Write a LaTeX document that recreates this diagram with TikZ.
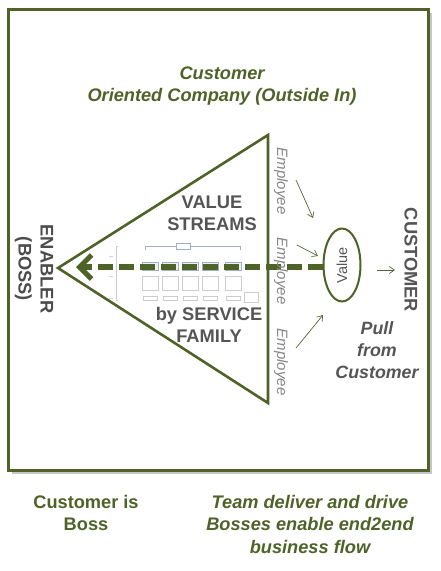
\documentclass[tikz,border=0pt]{standalone}
\usepackage{fontspec}
\setmainfont{Liberation Sans}
\usetikzlibrary{arrows.meta,shapes.geometric}
\definecolor{olive}{RGB}{79,98,40}
\definecolor{txtgray}{RGB}{85,85,85}
\definecolor{empgray}{RGB}{135,135,135}
\definecolor{thumb}{RGB}{160,175,200}
\begin{document}
\begin{tikzpicture}[x=1pt,y=-1pt,
  olivetext/.style={text=olive,font=\bfseries\itshape\fontsize{18.2}{22.5}\selectfont,align=center,inner sep=0},
  graytext/.style={text=txtgray,font=\bfseries\fontsize{18.3}{22}\selectfont,align=center,inner sep=0},
  emp/.style={text=empgray,font=\itshape\fontsize{15}{18}\selectfont,rotate=-90,inner sep=0},
  thinarrow/.style={draw=olive!85!gray,line width=0.7pt,-{Straight Barb[length=5pt,width=7pt]}},
  thumbbox/.style={draw=thumb,line width=0.4pt,fill=white},
]
\useasboundingbox (0,0) rectangle (441,571);
\fill[white] (0,0) rectangle (441,571);
% frame with shadow
\fill[gray!45] (12,13) rectangle (432,474);
\draw[olive,line width=3pt,fill=white] (8,9) rectangle (428,470);

% top title
\node[olivetext] (title) at (222,86) {Customer\\Oriented Company (Outside In)};

% triangle
\coordinate (apex) at (58,268);
\coordinate (tr) at (268,135);
\coordinate (br) at (268,403);
\draw[olive,line width=2.6pt,line join=miter] (apex) -- (tr) -- (br) -- cycle;

% thumbnail of value stream map
\begin{scope}[line width=0.4pt]
  \draw[thumb] (145,250) -- (145,246) -- (240,246) -- (240,250);
  \node[thumbbox,minimum width=14pt,minimum height=6pt,inner sep=0] (tb0) at (183,246) {};
  \foreach \x in {150,170,190,210,233}{
    \draw[thumb,fill=thumb!20] (\x-8,262) rectangle (\x+8,270);
    \draw[gray!40] (\x-8,276) rectangle (\x+8,290);
    \draw[gray!40] (\x-7,296) rectangle (\x+7,300);
  }
  \draw[gray!40] (244,292) rectangle (258,302);
  \draw[gray!40] (118,246) -- (116,246) -- (116,300) -- (118,300);
  \draw[gray!35] (113,256) -- (109,256) (113,276) -- (109,276) (113,298) -- (109,298);
\end{scope}

% value ellipse
\node[ellipse,draw=olive,line width=2pt,minimum width=37pt,minimum height=73pt,inner sep=0] (value) at (342,265) {};
\node[rotate=90,text=txtgray,font=\fontsize{14.5}{17}\selectfont] (valuetxt) at (value.center) {Value};

% dashed arrow
\coordinate (tip) at (76,266);
\draw[olive,line width=6pt,dash pattern=on 15pt off 6pt,
  -{Straight Barb[length=12pt,width=24pt,line width=5pt]}] (value.west |- 0,267) -- (tip |- 0,267);

% labels in triangle
\node[graytext] (vs) at (212,213) {VALUE\\STREAMS};
\node[graytext] (sf) at (209,325) {by SERVICE\\FAMILY};

% employees
\node[emp] (e1) at (281,181) {Employee};
\node[emp] (e2) at (281,271) {Employee};
\node[emp] (e3) at (281,362) {Employee};

% small arrows
\coordinate (a1s) at (296,180); \coordinate (a1e) at (313,218);
\coordinate (a2s) at (297,245); \coordinate (a2e) at (318,256);
\coordinate (a3s) at (296,348); \coordinate (a3e) at (323,315);
\coordinate (a4s) at (377,270); \coordinate (a4e) at (395,270);
\draw[thinarrow] (a1s) -- (a1e);
\draw[thinarrow] (a2s) -- (a2e);
\draw[thinarrow] (a3s) -- (a3e);
\draw[thinarrow] (a4s) -- (a4e);

% customer / enabler
\node[graytext,rotate=-90] (cust) at (411,260) {CUSTOMER};
\node[graytext,rotate=-90,text=txtgray!90!black] (enab) at (34,269) {ENABLER\\(BOSS)};

% pull from customer
\node[text=txtgray,font=\bfseries\itshape\fontsize{17.8}{22}\selectfont,align=center,inner sep=0] (pull) at (377,350) {Pull\\from\\Customer};

% bottom texts
\node[olivetext,font=\bfseries\fontsize{18.2}{22.5}\selectfont] (boss) at (86,513) {Customer is\\Boss};
\node[olivetext] (team) at (310,524) {Team deliver and drive\\Bosses enable end2end\\business flow};
\end{tikzpicture}
\end{document}
